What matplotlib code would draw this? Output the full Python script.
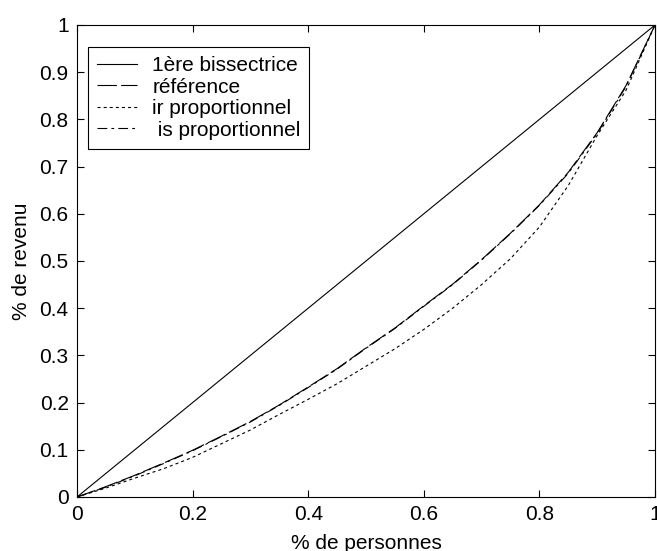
import matplotlib
matplotlib.use("Agg")
import matplotlib.pyplot as plt

plt.rcParams['font.family'] = ['Liberation Sans', 'DejaVu Sans']
plt.rcParams['lines.scale_dashes'] = False

x = [0.0, 0.05, 0.10, 0.15, 0.20, 0.25, 0.30, 0.35, 0.40, 0.45, 0.50,
     0.55, 0.60, 0.65, 0.70, 0.75, 0.80, 0.85, 0.90, 0.95, 1.0]
bissectrice = x
reference = [0.0, 0.022, 0.046, 0.072, 0.099, 0.129, 0.160, 0.195, 0.233, 0.272, 0.316,
             0.358, 0.405, 0.451, 0.503, 0.559, 0.619, 0.688, 0.772, 0.872, 1.0]
ir_prop = [0.0, 0.019, 0.040, 0.060, 0.084, 0.113, 0.142, 0.175, 0.207, 0.240, 0.277,
           0.314, 0.355, 0.400, 0.450, 0.505, 0.572, 0.660, 0.766, 0.862, 1.0]
is_prop = [0.0, 0.021, 0.045, 0.071, 0.098, 0.128, 0.159, 0.194, 0.232, 0.271, 0.315,
           0.357, 0.404, 0.450, 0.502, 0.558, 0.618, 0.686, 0.770, 0.870, 1.0]
labels = ['1ère bissectrice', 'référence', 'ir proportionnel', ' is proportionnel']
xticks = [0, 0.2, 0.4, 0.6, 0.8, 1]
xticklabels = ['0', '0.2', '0.4', '0.6', '0.8', '1']
yticks = [0, 0.1, 0.2, 0.3, 0.4, 0.5, 0.6, 0.7, 0.8, 0.9, 1]
yticklabels = ['0', '0.1', '0.2', '0.3', '0.4', '0.5', '0.6', '0.7', '0.8', '0.9', '1']

fig = plt.figure(figsize=(6.57, 5.51), dpi=100)
ax = fig.add_axes([77/657, 1-497/551, 578/657, 472/551])

lw = 0.8
ax.plot(x, bissectrice, color='black', lw=lw, linestyle='-', label=labels[0])
ax.plot(x, reference, color='black', lw=lw, linestyle=(0, (14, 3)), label=labels[1])
ax.plot(x, ir_prop, color='black', lw=lw, linestyle=(0, (2.2, 2.2)), label=labels[2])
ax.plot(x, is_prop, color='black', lw=lw, linestyle=(0, (7, 3, 2, 3)), label=labels[3])

ax.set_xlim(0, 1)
ax.set_ylim(0, 1)
ax.set_xticks(xticks)
ax.set_xticklabels(xticklabels)
ax.set_yticks(yticks)
ax.set_yticklabels(yticklabels)
ax.tick_params(direction='in', length=5, width=0.8, labelsize=15,
               top=True, right=True, pad=6, colors='black')
for s in ax.spines.values():
    s.set_linewidth(0.8)

ax.set_xlabel('% de personnes', fontsize=15, labelpad=7)
ax.set_ylabel('% de revenu', fontsize=15, labelpad=6)

leg = ax.legend(loc='upper left', bbox_to_anchor=(0.019, 0.953), borderaxespad=0,
                fontsize=15, frameon=True, fancybox=False, edgecolor='black',
                framealpha=1, handlelength=1.9, handletextpad=0.75,
                labelspacing=0.12, borderpad=0.43)
leg.get_frame().set_linewidth(0.8)

fig.savefig('out.png', dpi=100)
